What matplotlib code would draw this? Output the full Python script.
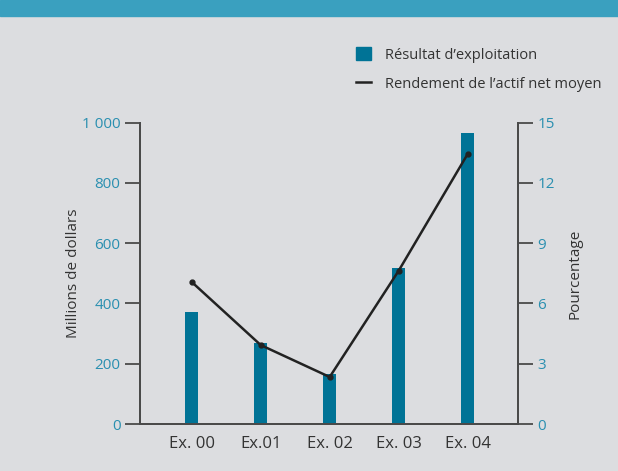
import matplotlib.pyplot as plt
import matplotlib.patches as mpatches
from matplotlib.lines import Line2D

plt.rcParams['font.family'] = ['Open Sans', 'DejaVu Sans']

exercices = ['Ex. 00', 'Ex.01', 'Ex. 02', 'Ex. 03', 'Ex. 04']
resultat = [372, 269, 166, 518, 966]          # millions de dollars
rendement = [7.07, 3.93, 2.34, 7.63, 13.44]   # pourcentage

bg = '#dcdde0'
teal = '#007396'
tick_blue = '#2a8fb0'
dark = '#333333'
spine_c = '#4a4a4a'

fig = plt.figure(figsize=(6.18, 4.71), dpi=100, facecolor=bg)
# bandeau du haut
fig.patches.append(mpatches.Rectangle((0, 1 - 16 / 471), 1, 16 / 471,
                                      transform=fig.transFigure, color='#3aa0bf', zorder=0))

ax = fig.add_axes([140 / 618, 1 - 424 / 471, 378 / 618, (424 - 122.7) / 471])
ax.set_facecolor(bg)
x = range(len(exercices))
ax.bar(x, resultat, width=0.19, color=teal, zorder=2)
ax.set_xlim(-0.75, 4.73)
ax.set_ylim(0, 1000)
ax.set_yticks([0, 200, 400, 600, 800, 1000])
ax.set_yticklabels(['0', '200', '400', '600', '800', '1 000'])
ax.set_xticks(list(x))
ax.set_xticklabels(exercices)
ax.tick_params(axis='x', length=0, pad=9, labelsize=12, labelcolor=dark)
ax.tick_params(axis='y', length=11, width=1.3, color=spine_c, pad=3,
               labelsize=11, labelcolor=tick_blue)
ax.set_ylabel('Millions de dollars', fontsize=11, color=dark, labelpad=1)
ax.spines['top'].set_visible(False)
for s in ['left', 'right', 'bottom']:
    ax.spines[s].set_color(spine_c)
    ax.spines[s].set_linewidth(1.4)

ax2 = ax.twinx()
ax2.plot(x, rendement, color='#222222', lw=1.8, marker='o', markersize=3.5, zorder=3)
ax2.set_ylim(0, 15)
ax2.set_yticks([0, 3, 6, 9, 12, 15])
ax2.tick_params(axis='y', length=11, width=1.3, color=spine_c, pad=3,
                labelsize=11, labelcolor=tick_blue)
ax2.set_ylabel('Pourcentage', fontsize=11, color=dark, labelpad=9)
ax2.spines['top'].set_visible(False)
for s in ['left', 'right', 'bottom']:
    ax2.spines[s].set_color(spine_c)
    ax2.spines[s].set_linewidth(1.4)

handles = [mpatches.Patch(color=teal, label="Résultat d’exploitation"),
           Line2D([], [], color='#222222', lw=1.8, label="Rendement de l’actif net moyen")]
leg = fig.legend(handles=handles, loc='upper left', bbox_to_anchor=(343 / 618, 1 - 34 / 471),
                 frameon=False, fontsize=10.5, handlelength=1.0, handleheight=1.0,
                 handletextpad=1.0, labelspacing=0.95, labelcolor=dark)

fig.savefig('out.png', dpi=100, facecolor=bg)
